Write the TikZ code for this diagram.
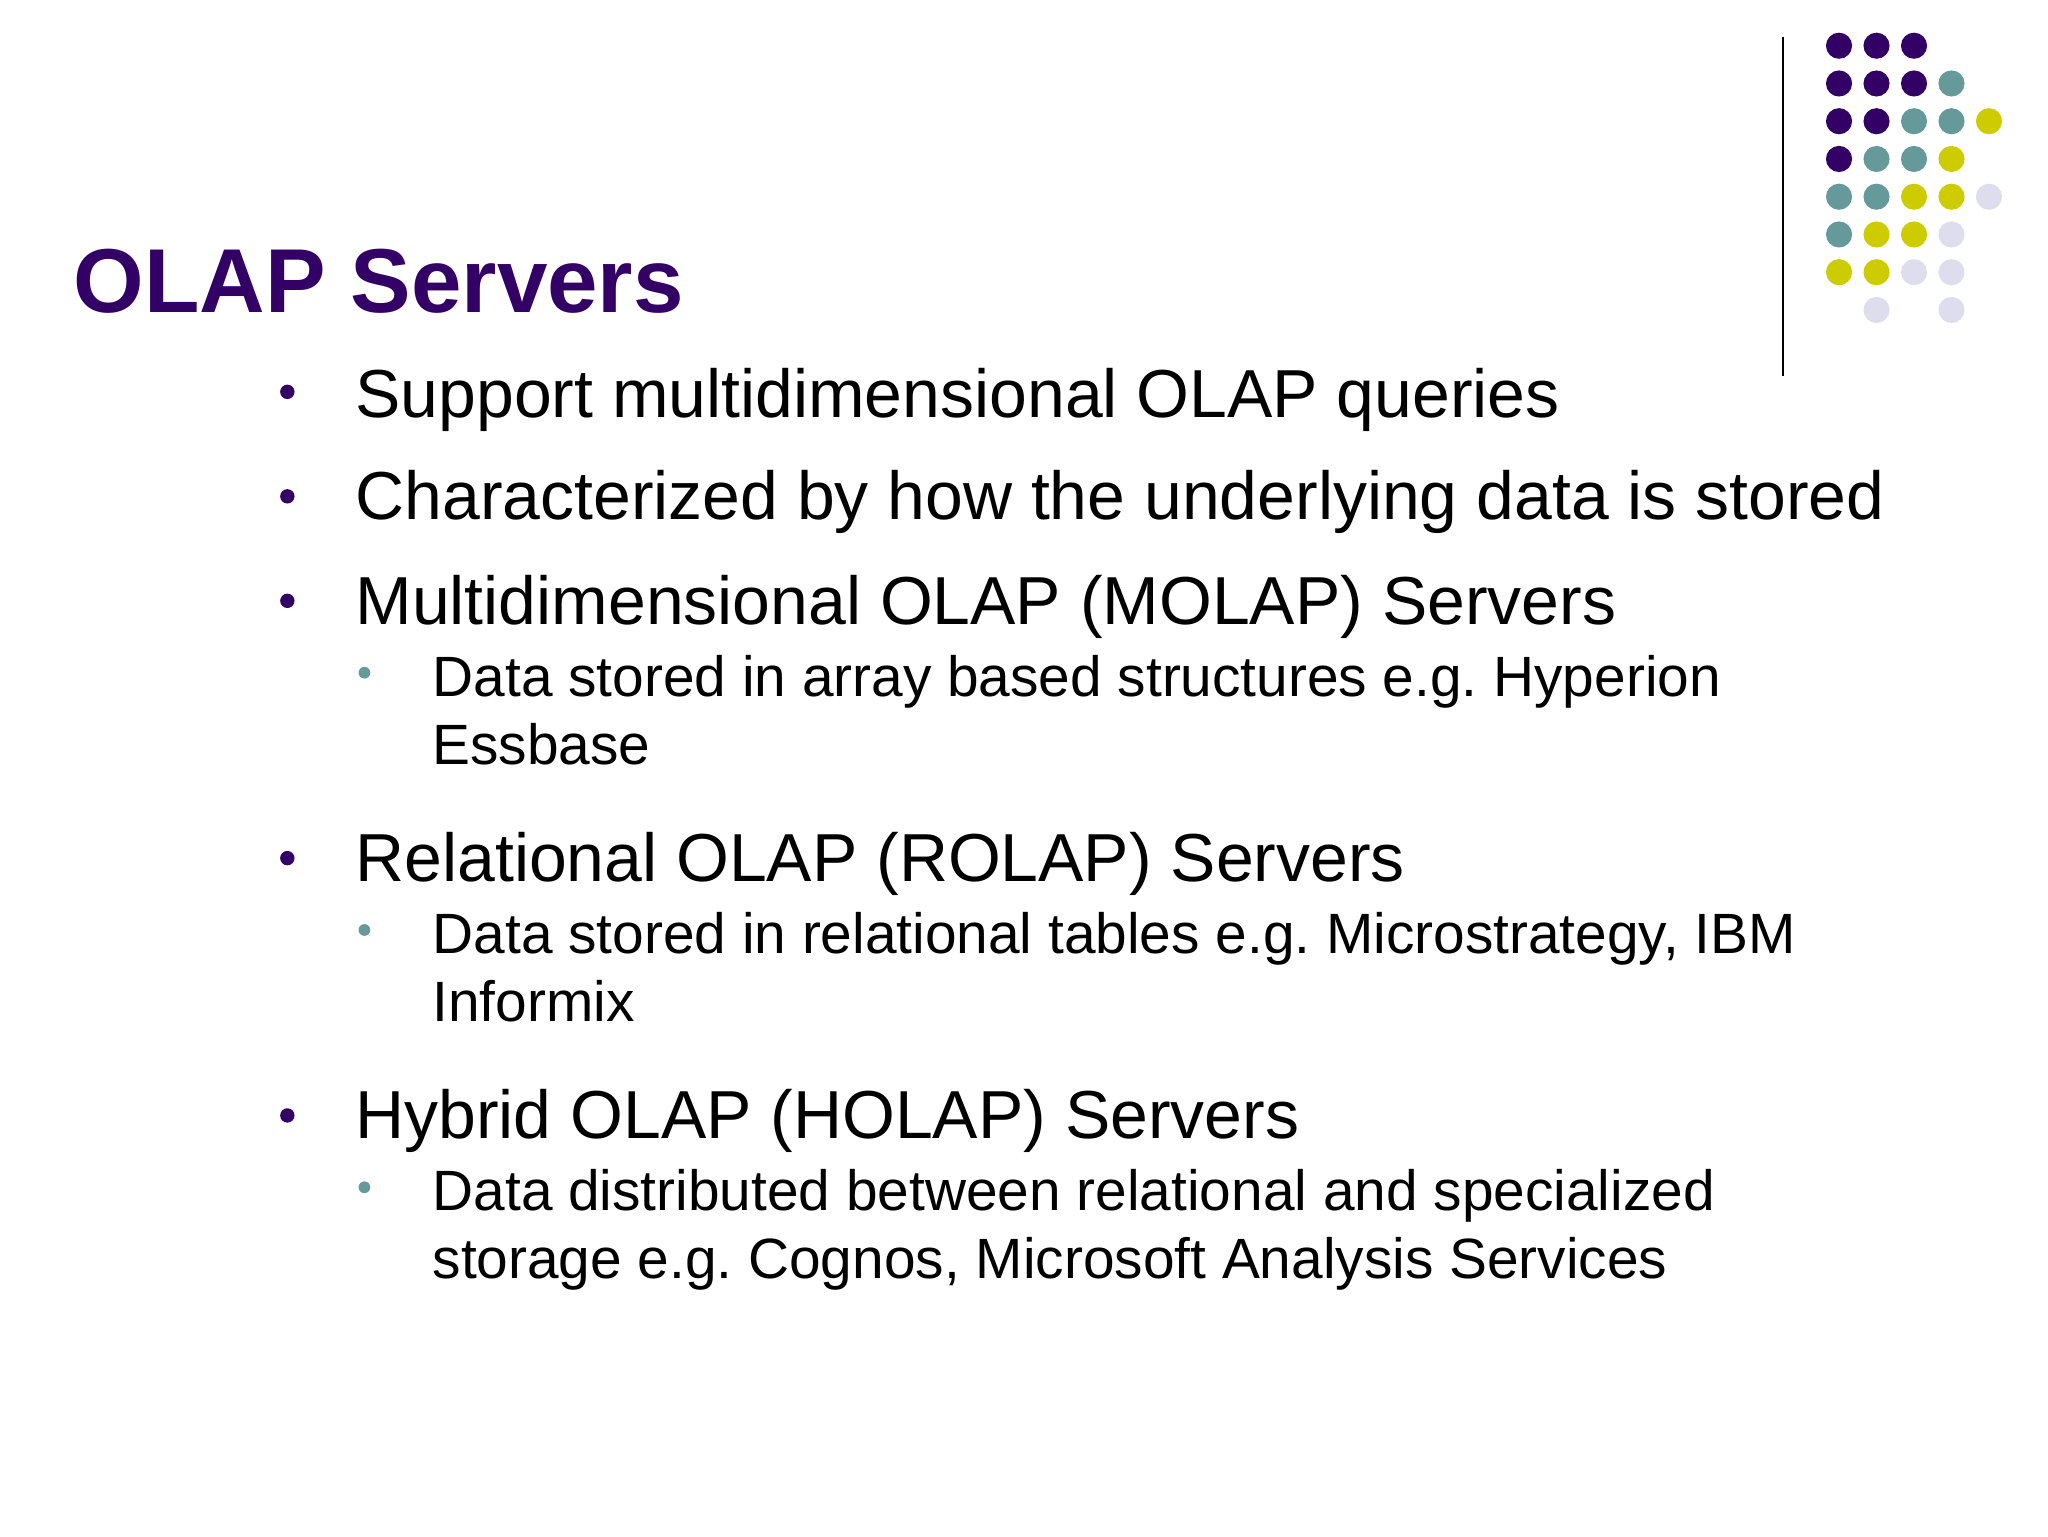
\documentclass[tikz,border=0pt]{standalone}
\usepackage{fontspec}
\setmainfont{Liberation Sans}
\frenchspacing
\definecolor{pur}{HTML}{330066}
\definecolor{teal}{HTML}{669999}
\definecolor{yel}{HTML}{CCCC00}
\definecolor{lav}{HTML}{DDDDEE}
\tikzset{
 main/.style={anchor=base west,inner sep=0pt,font=\fontsize{52}{56}\selectfont},
 sub/.style={anchor=base west,inner sep=0pt,font=\fontsize{43.5}{48}\selectfont},
 mb/.style={circle,fill=pur,inner sep=0pt,minimum size=11pt},
 sb/.style={circle,fill=teal,inner sep=0pt,minimum size=9pt},
 dot/.style={circle,inner sep=0pt,minimum size=20pt}
}
\begin{document}
\begin{tikzpicture}[x=1pt,y=-1pt]
\useasboundingbox (0,0) rectangle (1568,1176);
\node[anchor=base west,inner sep=0pt,text=pur,font=\fontsize{69.5}{74}\selectfont\bfseries] (title) at (56,239) {OLAP Servers};
\draw[line width=1.5pt] (1365,28) -- (1365,288);
\foreach \r/\list in {0/{0/pur,1/pur,2/pur},1/{0/pur,1/pur,2/pur,3/teal},2/{0/pur,1/pur,2/teal,3/teal,4/yel},3/{0/pur,1/teal,2/teal,3/yel},4/{0/teal,1/teal,2/yel,3/yel,4/lav},5/{0/teal,1/yel,2/yel,3/lav},6/{0/yel,1/yel,2/lav,3/lav},7/{1/lav,3/lav}}{
 \foreach \c/\col in \list { \node[dot,fill=\col] (d\r\c) at (1408+28.7*\c,35+28.9*\r) {}; }
}
\node[main] (t1) at (272,320) {Support multidimensional OLAP queries};
\node[main] (t2) at (272,398) {Characterized by how the underlying data is stored};
\node[main] (t3) at (272,478) {Multidimensional OLAP (MOLAP) Servers};
\node[sub] (s1) at (331,533) {Data stored in array based structures e.g. Hyperion};
\node[sub] (s1b) at (331,585) {Essbase};
\node[main] (t4) at (272,675) {Relational OLAP (ROLAP) Servers};
\node[sub] (s2) at (331,730) {Data stored in relational tables e.g. Microstrategy, IBM};
\node[sub] (s2b) at (331,782) {Informix};
\node[main] (t5) at (272,872) {Hybrid OLAP (HOLAP) Servers};
\node[sub] (s3) at (331,927) {Data distributed between relational and specialized};
\node[sub] (s3b) at (331,979) {storage e.g. Cognos, Microsoft Analysis Services};
\foreach \y in {300,380,460,657,854} \node[mb] at (220,\y) {};
\foreach \y in {515,712,909} \node[sb] at (279,\y) {};
\end{tikzpicture}
\end{document}
